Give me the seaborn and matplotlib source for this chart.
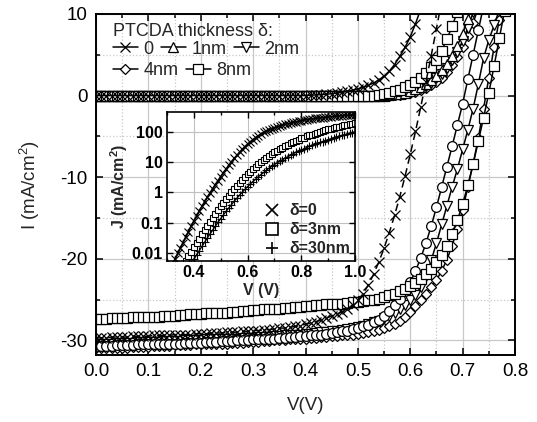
import numpy as np
import matplotlib
matplotlib.use("Agg")
import matplotlib.pyplot as plt
import seaborn as sns
from matplotlib.lines import Line2D
from matplotlib.ticker import MultipleLocator, LogLocator, NullFormatter

# ---------------- main panel: J-V curves (mA/cm^2 vs V) ----------------
V_main = np.round(np.arange(0.0, 0.805, 0.01), 2)   # measured voltage steps

# illuminated curves
light_0nm = [-29.7, -29.7, -29.7, -29.6, -29.6, -29.6, -29.6, -29.5, -29.5, -29.5,
             -29.5, -29.4, -29.4, -29.4, -29.4, -29.3, -29.3, -29.3, -29.3, -29.2,
             -29.2, -29.2, -29.1, -29.1, -29.1, -29.0, -29.0, -29.0, -28.9, -28.9,
             -28.8, -28.8, -28.7, -28.7, -28.6, -28.5, -28.5, -28.4, -28.3, -28.2,
             -28.0, -27.9, -27.7, -27.5, -27.3, -27.0, -26.8, -26.5, -26.2, -25.7,
             -25.1, -24.3, -23.2, -21.9, -20.4, -18.7, -16.8, -14.7, -12.4, -9.9,
             -7.2, -4.4, -1.4, 1.7, 4.9, 8.2, 11.6]
light_1nm = [-30.7, -30.7, -30.7, -30.7, -30.6, -30.6, -30.6, -30.6, -30.5, -30.5,
             -30.5, -30.5, -30.5, -30.4, -30.4, -30.4, -30.4, -30.3, -30.3, -30.3,
             -30.3, -30.2, -30.2, -30.2, -30.1, -30.1, -30.1, -30.0, -30.0, -30.0,
             -29.9, -29.9, -29.9, -29.8, -29.8, -29.7, -29.7, -29.6, -29.6, -29.5,
             -29.5, -29.4, -29.3, -29.3, -29.2, -29.1, -29.0, -28.9, -28.8, -28.6,
             -28.5, -28.3, -28.1, -27.8, -27.5, -27.0, -26.4, -25.7, -24.9, -24.0,
             -22.9, -21.5, -19.9, -18.1, -16.0, -13.7, -11.2, -8.7, -6.2, -3.6,
             -1.0, 2.0, 5.0, 8.0, 11.0]
light_2nm = [-30.4, -30.4, -30.4, -30.4, -30.3, -30.3, -30.3, -30.3, -30.2, -30.2,
             -30.2, -30.2, -30.2, -30.1, -30.1, -30.1, -30.1, -30.0, -30.0, -30.0,
             -30.0, -29.9, -29.9, -29.9, -29.9, -29.8, -29.8, -29.8, -29.7, -29.7,
             -29.7, -29.6, -29.6, -29.6, -29.5, -29.5, -29.4, -29.4, -29.3, -29.3,
             -29.2, -29.2, -29.1, -29.0, -29.0, -28.9, -28.8, -28.7, -28.6, -28.5,
             -28.4, -28.2, -28.0, -27.8, -27.6, -27.3, -27.0, -26.6, -26.2, -25.7,
             -25.1, -24.4, -23.5, -22.1, -20.2, -18.1, -15.8, -13.5, -11.2, -9.0,
             -6.6, -4.2, -1.6, 1.4, 4.6, 6.8, 8.6, 10.5]
light_4nm = [-31.0, -31.0, -31.0, -30.9, -30.9, -30.9, -30.9, -30.8, -30.8, -30.8,
             -30.8, -30.7, -30.7, -30.7, -30.7, -30.6, -30.6, -30.6, -30.6, -30.5,
             -30.5, -30.5, -30.5, -30.4, -30.4, -30.4, -30.3, -30.3, -30.3, -30.2,
             -30.2, -30.2, -30.1, -30.1, -30.0, -30.0, -30.0, -29.9, -29.9, -29.8,
             -29.8, -29.7, -29.7, -29.6, -29.6, -29.5, -29.5, -29.4, -29.3, -29.3,
             -29.2, -29.1, -29.0, -28.9, -28.7, -28.5, -28.3, -28.0, -27.6, -27.1,
             -26.5, -25.8, -25.1, -24.3, -23.5, -22.6, -21.5, -20.1, -18.4, -16.3,
             -14.0, -11.2, -8.4, -5.2, -1.6, 2.2, 5.9, 9.3, 12.5]
light_8nm = [-27.4, -27.4, -27.4, -27.3, -27.3, -27.3, -27.3, -27.2, -27.2, -27.2,
             -27.1, -27.1, -27.1, -27.0, -27.0, -27.0, -26.9, -26.9, -26.8, -26.8,
             -26.8, -26.7, -26.7, -26.6, -26.6, -26.6, -26.5, -26.5, -26.4, -26.4,
             -26.3, -26.3, -26.2, -26.2, -26.1, -26.1, -26.0, -26.0, -25.9, -25.9,
             -25.8, -25.8, -25.7, -25.7, -25.6, -25.6, -25.5, -25.5, -25.4, -25.3,
             -25.3, -25.2, -25.1, -25.0, -24.9, -24.7, -24.5, -24.3, -24.0, -23.7,
             -23.4, -23.0, -22.5, -21.9, -21.2, -20.4, -19.5, -18.4, -17.0, -15.3,
             -13.3, -11.0, -8.4, -5.6, -2.7, 0.3, 3.6, 7.0, 10.4]

# dark curves
dark_0nm = [0.0] * 41 + [0.05, 0.08, 0.12, 0.17, 0.23, 0.3, 0.4, 0.52, 0.66, 0.82,
                         1.0, 1.25, 1.55, 1.9, 2.4, 3.0, 3.8, 4.8, 5.9, 7.2, 8.8, 10.6]
dark_1nm = [0.0] * 56 + [0.1, 0.16, 0.25, 0.37, 0.54, 0.76, 1.05, 1.4, 1.85, 2.4,
                         3.1, 3.9, 4.9, 6.1, 7.6, 9.4, 11.4]
dark_2nm = [0.0] * 56 + [0.08, 0.13, 0.2, 0.3, 0.45, 0.65, 0.9, 1.2, 1.6, 2.1,
                         2.7, 3.4, 4.3, 5.4, 6.7, 8.3, 10.2]
dark_4nm = [0.0] * 57 + [0.08, 0.12, 0.2, 0.3, 0.45, 0.65, 0.9, 1.25, 1.7, 2.2,
                         2.9, 3.7, 4.7, 5.9, 7.3, 8.9, 10.8]
dark_8nm = [0.0] * 54 + [0.1, 0.2, 0.35, 0.5, 0.7, 1.0, 1.3, 1.7, 2.2, 2.8,
                         3.5, 4.4, 5.5, 6.9, 8.5, 10.3]

legend_labels = ["0", "1nm", "2nm", "4nm", "8nm"]
legend_markers = ["x", "^", "v", "D", "s"]
x_ticks_main = [0.0, 0.1, 0.2, 0.3, 0.4, 0.5, 0.6, 0.7, 0.8]
y_ticks_main = [-30, -20, -10, 0, 10]

# ---------------- inset: log J vs V ----------------
V_inset = np.round(np.arange(0.30, 1.005, 0.01), 2)
J_d0 = [0.00178, 0.00269, 0.00417, 0.00631, 0.00977, 0.0148, 0.0224, 0.0339, 0.0513, 0.0776,
        0.115, 0.166, 0.240, 0.347, 0.490, 0.692, 0.955, 1.32, 1.82, 2.45,
        3.31, 4.47, 5.89, 7.76, 10.2, 13.2, 16.6, 20.9, 26.3, 32.4,
        38.9, 46.8, 55.0, 64.6, 74.1, 85.1, 95.5, 105, 115, 126,
        135, 145, 155, 166, 178, 186, 195, 204, 214, 224,
        234, 245, 251, 263, 269, 275, 282, 288, 295, 302,
        309, 316, 324, 331, 331, 339, 347, 347, 355, 355, 363]
J_d3 = [0.0005, 0.00071, 0.001, 0.00141, 0.002, 0.00282, 0.00398, 0.00562, 0.00794, 0.0112,
        0.0158, 0.0219, 0.0302, 0.0417, 0.0575, 0.0794, 0.107, 0.145, 0.195, 0.263,
        0.347, 0.457, 0.603, 0.794, 1.02, 1.32, 1.66, 2.09, 2.63, 3.24,
        3.98, 4.90, 5.89, 7.08, 8.51, 10.0, 11.7, 13.8, 15.8, 18.2,
        20.9, 24.0, 26.9, 30.2, 33.9, 38.0, 41.7, 45.7, 50.1, 55.0,
        60.3, 64.6, 70.8, 75.9, 81.3, 87.1, 93.3, 100, 107, 112,
        120, 126, 135, 141, 148, 155, 162, 170, 178, 186, 195]
J_d30 = [0.0002, 0.00028, 0.0004, 0.00056, 0.00079, 0.00112, 0.00158, 0.00224, 0.00316, 0.00447,
         0.00631, 0.00871, 0.0120, 0.0166, 0.0229, 0.0316, 0.0427, 0.0575, 0.0776, 0.105,
         0.138, 0.182, 0.240, 0.309, 0.398, 0.513, 0.646, 0.813, 1.02, 1.26,
         1.55, 1.91, 2.29, 2.75, 3.31, 3.89, 4.57, 5.37, 6.31, 7.24,
         8.32, 9.55, 10.7, 12.0, 13.5, 15.1, 17.0, 19.1, 20.9, 22.9,
         25.1, 27.5, 30.2, 33.1, 35.5, 38.9, 41.7, 44.7, 47.9, 51.3,
         55.0, 58.9, 63.1, 67.6, 70.8, 75.9, 79.4, 85.1, 89.1, 93.3, 100]
inset_labels = ["δ=0", "δ=3nm", "δ=30nm"]
inset_markers = ["x", "s", "+"]
inset_yticks = [0.01, 0.1, 1, 10, 100]
inset_yticklabels = ["0.01", "0.1", "1", "10", "100"]
inset_xticks = [0.4, 0.6, 0.8, 1.0]

# ---------------- styling ----------------
sns.set_theme(style="ticks")
plt.rcParams['font.family'] = ['Liberation Sans', 'DejaVu Sans']
plt.rcParams['mathtext.fontset'] = 'custom'
plt.rcParams['mathtext.rm'] = 'Liberation Sans'
plt.rcParams['mathtext.it'] = 'Liberation Sans:italic'
plt.rcParams['mathtext.bf'] = 'Liberation Sans:bold'

fig = plt.figure(figsize=(5.37, 4.22), dpi=100)
ax = fig.add_axes([96 / 537, (422 - 355) / 422, 419 / 537, 341 / 422])


def draw(axis, xs, ys, marker, ms, ls='-', lw=1.1, mew=0.9, mfc='white'):
    xs = np.asarray(xs)[:len(ys)]
    sns.lineplot(x=xs, y=np.asarray(ys, dtype=float), ax=axis, color='black',
                 linestyle=ls, linewidth=lw, marker=marker, markersize=ms,
                 markerfacecolor=mfc, markeredgecolor='black',
                 markeredgewidth=mew, estimator=None, sort=False)


# dark curves
draw(ax, V_main, dark_4nm, 'D', 5.5)
draw(ax, V_main, dark_2nm, 'v', 7)
draw(ax, V_main, dark_1nm, '^', 7)
draw(ax, V_main, dark_8nm, 's', 7)
draw(ax, V_main, dark_0nm, 'x', 7.5)
# illuminated curves
draw(ax, V_main, light_4nm, 'D', 5.5)
draw(ax, V_main, light_2nm, 'v', 7)
draw(ax, V_main, light_1nm, 'o', 7)
draw(ax, V_main, light_8nm, 's', 7)
draw(ax, V_main, light_0nm, 'x', 7.5, ls=(0, (5, 3)))

ax.set_xlim(0.0, 0.8)
ax.set_ylim(-31.8, 10)
ax.set_xticks(x_ticks_main, labels=[f"{t:.1f}" for t in x_ticks_main])
ax.set_yticks(y_ticks_main, labels=[str(t) for t in y_ticks_main])
ax.xaxis.set_minor_locator(MultipleLocator(0.05))
ax.yaxis.set_minor_locator(MultipleLocator(5))
ax.tick_params(which='both', direction='in', top=True, right=True, colors='black',
               labelsize=13.5, width=1.1, pad=6)
ax.tick_params(which='major', length=5)
ax.tick_params(which='minor', length=3)
ax.grid(which='major', color='#c8c8c8', lw=0.9, ls='-')
ax.grid(which='minor', color='#c8c8c8', lw=0.9, ls=':')
ax.set_axisbelow(True)
for s in ax.spines.values():
    s.set_color('black')
    s.set_linewidth(1.4)
ax.set_xlabel("V(V)", fontsize=13.5, labelpad=12)
ax.set_ylabel("I (mA/cm$^2$)", fontsize=13.5, labelpad=13)

# main legend (two rows)
handles = [Line2D([], [], color='black', lw=1.1, marker=m, markersize=(5.5 if m == 'D' else 7),
                  markerfacecolor='white', markeredgecolor='black', markeredgewidth=0.9)
           for m in legend_markers]
leg1 = ax.legend(handles[:3], legend_labels[:3], ncol=3, loc='upper left',
                 bbox_to_anchor=(0.040, 0.974), frameon=False, fontsize=13,
                 title="PTCDA thickness δ:", title_fontsize=13, alignment='left',
                 handlelength=1.4, handletextpad=0.3, columnspacing=0.4,
                 labelspacing=0.05, borderpad=0, borderaxespad=0)
ax.add_artist(leg1)
leg2 = ax.legend(handles[3:], legend_labels[3:], ncol=2, loc='upper left',
                 bbox_to_anchor=(0.040, 0.858), frameon=False, fontsize=13,
                 handlelength=1.4, handletextpad=0.3, columnspacing=0.4,
                 borderpad=0, borderaxespad=0)

# ---------------- inset ----------------
axi = fig.add_axes([167 / 537, (422 - 261) / 422, 188 / 537, 149 / 422])
axi.set_facecolor('white')
draw(axi, V_inset, J_d30, '+', 6, lw=1.0, mew=0.8)
draw(axi, V_inset, J_d3, 's', 5, lw=1.0, mew=0.8)
draw(axi, V_inset, J_d0, 'x', 6, lw=1.3, mew=0.8)
axi.set_yscale('log')
axi.set_xlim(0.3, 1.0)
axi.set_ylim(0.0055, 450)
axi.set_xticks(inset_xticks, labels=[f"{t:.1f}" for t in inset_xticks])
axi.xaxis.set_minor_locator(MultipleLocator(0.1))
axi.set_yticks(inset_yticks, labels=inset_yticklabels)
axi.yaxis.set_minor_locator(LogLocator(base=10, subs=np.arange(2, 10)))
axi.yaxis.set_minor_formatter(NullFormatter())
axi.tick_params(which='both', direction='in', top=True, right=True, colors='black',
                labelsize=11.5, width=1.0, pad=3)
axi.tick_params(which='major', length=4)
axi.tick_params(which='minor', length=2)
for lab in axi.get_xticklabels() + axi.get_yticklabels():
    lab.set_fontweight('bold')
axi.grid(which='major', color='#c0c0c0', lw=0.8, ls='-')
axi.grid(which='minor', color='#dcdcdc', lw=0.6, ls='-')
axi.set_axisbelow(True)
for s in axi.spines.values():
    s.set_color('black')
    s.set_linewidth(1.2)
axi.set_xlabel("V (V)", fontsize=11.5, fontweight='bold', labelpad=2)
axi.set_ylabel("J (mA/cm$^\\mathbf{2}$)", fontsize=11.5, fontweight='bold', labelpad=1)

ihandles = [Line2D([], [], ls='none', marker=m, markersize=9, color='black',
                   markerfacecolor='white', markeredgecolor='black', markeredgewidth=1.2)
            for m in inset_markers]
legi = axi.legend(ihandles, inset_labels, loc='lower right', frameon=False,
                  prop={'size': 11.5, 'weight': 'bold'}, handlelength=1.0,
                  handletextpad=0.6, labelspacing=0.25, borderpad=0.2,
                  borderaxespad=0.1, bbox_to_anchor=(1.0, 0.0))

fig.savefig("out.png", dpi=100)
